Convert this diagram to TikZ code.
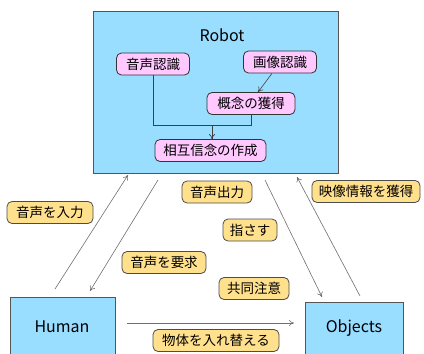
\documentclass[tikz,border=0pt]{standalone}
\usepackage{fontspec}
\setmainfont{Noto Sans CJK JP}
\usetikzlibrary{arrows.meta}
\definecolor{boxblue}{HTML}{99DDFF}
\definecolor{pinkfill}{HTML}{FFC8FF}
\definecolor{yelfill}{HTML}{FFE08C}
\definecolor{edgegray}{HTML}{555555}
\definecolor{arrgray}{HTML}{707070}
\tikzset{
  bigbox/.style={draw=edgegray, fill=boxblue, line width=0.8pt, inner sep=0pt},
  pinknode/.style={draw=black!80, fill=pinkfill, rounded corners=5pt, line width=0.8pt, inner sep=0pt, font=\fontsize{13.5}{14}\selectfont, minimum height=22pt},
  yelnode/.style={draw=black!70, fill=yelfill, rounded corners=5pt, line width=0.8pt, inner sep=0pt, font=\fontsize{13.5}{14}\selectfont, minimum height=22pt},
  biglbl/.style={font=\fontsize{16}{16}\selectfont},
  innerarr/.style={draw=black!75, line width=0.6pt},
  outerarr/.style={draw=arrgray, line width=0.6pt},
  tip/.style={-{To[length=5pt,width=6pt]}},
}
\begin{document}
\begin{tikzpicture}[x=1pt,y=-1pt]
\useasboundingbox (0,0) rectangle (424,354);
\clip (0,0) rectangle (424,354);
\fill[white] (0,0) rectangle (424,354);
% big boxes
\node[bigbox, minimum width=245pt, minimum height=162pt, anchor=north west] (robot) at (93,11) {};
\node[biglbl] (robotlbl) at (222,35) {Robot};
\node[bigbox, minimum width=105pt, minimum height=80pt, anchor=north west] (human) at (10,297) {};
\node[biglbl] (humanlbl) at (62,327) {Human};
\node[bigbox, minimum width=98pt, minimum height=80pt, anchor=north west] (objects) at (305,302) {};
\node[biglbl] (objlbl) at (354,328) {Objects};
% inner nodes
\node[pinknode, minimum width=73pt] (onsei) at (153,64) {音声認識};
\node[pinknode, minimum width=73pt] (gazou) at (280,62) {画像認識};
\node[pinknode, minimum width=88pt] (gainen) at (251,103.5) {概念の獲得};
\node[pinknode, minimum width=111pt] (sougo) at (210.5,150.5) {相互信念の作成};
\coordinate (junc) at (212,125);
\draw[innerarr] (onsei.south -| 153,0) |- (junc);
\draw[innerarr] (gainen.south) |- (junc);
\draw[innerarr, tip] (junc) -- (junc |- sougo.north);
\draw[innerarr, tip] (gazou.south -| 272,0) -- (gainen.north -| 258,0);
% outer arrow endpoints
\coordinate (hA) at (55,289);
\coordinate (rA) at (128,175);
\coordinate (rB) at (158,180);
\coordinate (hB) at (90,291);
\coordinate (rC) at (265,180);
\coordinate (oC) at (322,297);
\coordinate (oD) at (360,296);
\coordinate (rD) at (297,177);
\coordinate (hE) at (127,323);
\coordinate (oE) at (294,323);
\draw[outerarr, tip] (hA) -- (rA);
\draw[outerarr, tip] (rB) -- (hB);
\draw[outerarr, tip] (rC) -- (oC);
\draw[outerarr, tip] (oD) -- (rD);
\draw[outerarr, tip] (hE) -- (oE);
% labels
\node[yelnode, minimum width=86pt] (l1) at (50,212.5) {音声を入力};
\node[yelnode, minimum width=84pt] (l2) at (164,262.5) {音声を要求};
\node[yelnode, minimum width=70pt] (l3) at (217,192) {音声出力};
\node[yelnode, minimum width=54pt] (l4) at (250,230) {指さす};
\node[yelnode, minimum width=70pt] (l5) at (254,288.5) {共同注意};
\node[yelnode, minimum width=108pt] (l6) at (366,191.5) {映像情報を獲得};
\node[yelnode, minimum width=126pt] (l7) at (216,340.5) {物体を入れ替える};
\end{tikzpicture}
\end{document}
